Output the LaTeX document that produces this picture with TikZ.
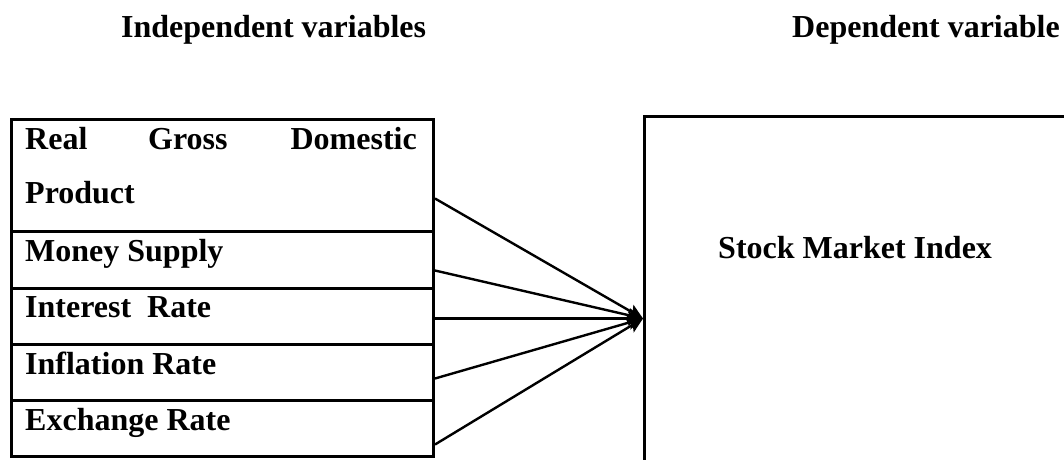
\documentclass[tikz,border=0pt]{standalone}
\usepackage{fontspec}
\setmainfont{Liberation Serif}
\usetikzlibrary{arrows.meta}
\tikzset{
  cell/.style={draw, line width=3pt, minimum width=422pt, inner sep=0pt, anchor=north west},
  txt/.style={inner sep=0pt, anchor=base west},
  conn/.style={line width=2.4pt, -{Stealth[length=15pt,width=14pt,inset=3pt]}}
}
\begin{document}
\begin{tikzpicture}[x=1pt,y=-1pt,font=\fontsize{32}{38}\selectfont\bfseries]
    \useasboundingbox (0,0) rectangle (1064,459);
    \clip (0,0) rectangle (1064,459);
    \node[txt] (indep) at (121,37) {Independent variables};
    \node[txt] (dep) at (792,37) {Dependent variable};
    % independent variables
    \node[cell, minimum height=112pt] (gdp) at (10,118) {};
    \node[cell, minimum height=57pt] (money) at (10,230) {};
    \node[cell, minimum height=56pt] (interest) at (10,287) {};
    \node[cell, minimum height=56pt] (inflation) at (10,343) {};
    \node[cell, minimum height=56pt] (exchange) at (10,399) {};
    \node[txt] (real) at (25,149) {Real};
    \node[txt] (gross) at (148,149) {Gross};
    \node[txt, anchor=base east] (domestic) at (417,149) {Domestic};
    \node[txt] (product) at (25,203) {Product};
    \node[txt] (moneylbl) at (25,261) {Money Supply};
    \node[txt] (interestlbl) at (25,317) {Interest~~Rate};
    \node[txt] (inflationlbl) at (25,374) {Inflation Rate};
    \node[txt] (exchangelbl) at (25,430) {Exchange Rate};
    % dependent variable
    \node[draw, line width=3pt, inner sep=0pt, anchor=north west, minimum width=500pt, minimum height=404pt] (index) at (643,115) {};
    \node[txt] (indexlbl) at (718,258) {Stock Market Index};
    \foreach \c/\s in {gdp/23,money/10.5,interest/2,inflation/6,exchange/16}
    \draw[conn] ([yshift=-\s pt]\c.east) -- (index.west);
\end{tikzpicture}
\end{document}
